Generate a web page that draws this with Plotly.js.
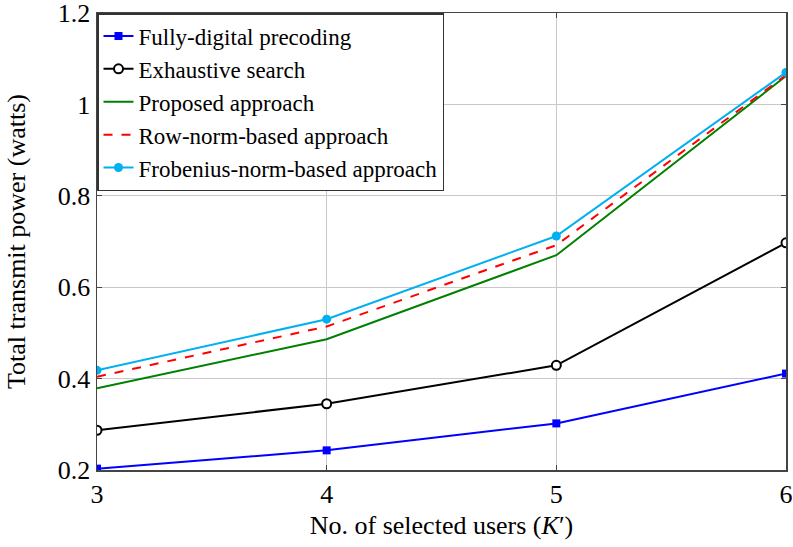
<!DOCTYPE html>
<html><head><meta charset="utf-8">
<script src="https://cdn.plot.ly/plotly-3.0.1.min.js"></script>
<style>html,body{margin:0;padding:0;background:#fff}</style>
</head><body>
<div id="chart" style="width:793px;height:547px"></div>
<script>
const users = [3, 4, 5, 6];
const fullyDigital = [0.203, 0.243, 0.302, 0.411];
const exhaustive = [0.287, 0.345, 0.429, 0.697];
const proposed = [0.379, 0.486, 0.670, 1.062];
const rowNorm = [0.404, 0.514, 0.692, 1.064];
const frobenius = [0.418, 0.530, 0.712, 1.070];
const xTicks = [3, 4, 5, 6];
const yTicks = [0.2, 0.4, 0.6, 0.8, 1, 1.2];
const yTickText = ['0.2', '0.4', '0.6', '0.8', '1', '1.2'];

const FONT = 'Liberation Serif, DejaVu Serif, serif';

const traces = [
  {x: users, y: fullyDigital, name: 'Fully-digital precoding', mode: 'lines+markers',
   line: {color: '#0000ff', width: 2}, marker: {symbol: 'square', size: 8, color: '#0000ff'}},
  {x: users, y: exhaustive, name: 'Exhaustive search', mode: 'lines+markers',
   line: {color: '#000000', width: 2}, marker: {symbol: 'circle', size: 9, color: '#ffffff', line: {color: '#000000', width: 2}}},
  {x: users, y: proposed, name: 'Proposed approach', mode: 'lines',
   line: {color: '#008000', width: 2}},
  {x: users, y: rowNorm, name: 'Row-norm-based approach', mode: 'lines',
   line: {color: '#ff0000', width: 2, dash: 'dash'}},
  {x: users, y: frobenius, name: 'Frobenius-norm-based approach', mode: 'lines+markers',
   line: {color: '#00b0f0', width: 2}, marker: {symbol: 'circle', size: 9, color: '#00b0f0'}}
];

const axisCommon = {
  showline: true, linecolor: '#444', linewidth: 1.5, mirror: 'ticks',
  ticks: 'inside', ticklen: 5, tickcolor: '#444',
  showgrid: true, gridcolor: '#c8c8c8', gridwidth: 1, zeroline: false,
  ticklabeloverflow: 'allow',
  tickfont: {family: FONT, size: 26, color: '#000'}
};

const layout = {
  width: 793, height: 547,
  margin: {l: 97, r: 7, t: 13, b: 77},
  paper_bgcolor: '#fff', plot_bgcolor: '#fff',
  font: {family: FONT, color: '#000'},
  xaxis: Object.assign({}, axisCommon, {
    range: [3, 6], tickvals: xTicks, ticktext: xTicks.map(String),
    title: {text: 'No. of selected users (<i>K</i>′)', font: {size: 26}, standoff: 8}
  }),
  yaxis: Object.assign({}, axisCommon, {
    range: [0.2, 1.2], tickvals: yTicks, ticktext: yTickText,
    title: {text: 'Total transmit power (watts)', font: {size: 26}, standoff: 24}
  }),
  legend: {
    x: 0, y: 1, xanchor: 'left', yanchor: 'top',
    bgcolor: '#fff', bordercolor: '#333', borderwidth: 1.5,
    font: {family: FONT, size: 23, color: '#000'},
    tracegroupgap: 0, entrywidth: 385, entrywidthmode: 'pixels'
  },
  showlegend: true
};

Plotly.newPlot('chart', traces, layout, {displayModeBar: false, staticPlot: true});
</script>
</body></html>
